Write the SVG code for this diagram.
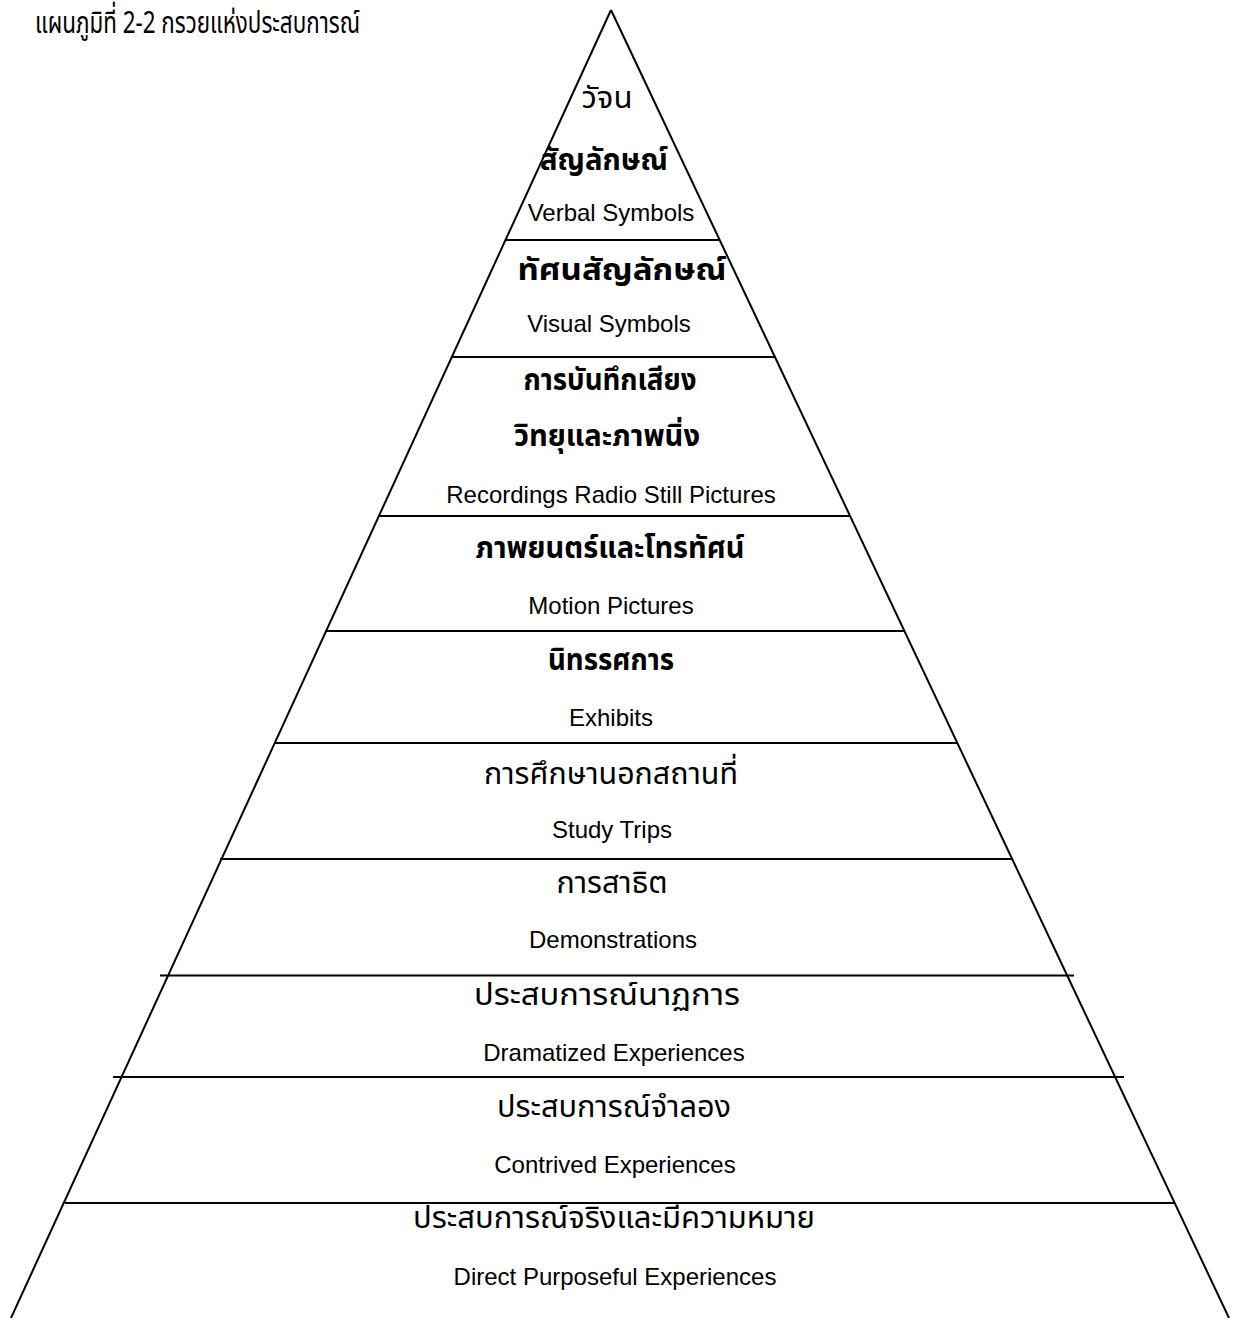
<svg xmlns="http://www.w3.org/2000/svg" width="1237" height="1318" viewBox="0 0 1237 1318">
<style>
.th{font-family:"Noto Sans Thai","Noto Sans Thai Looped","Loma","Garuda","Norasi","Noto Sans","DejaVu Sans",sans-serif;font-size:30px;fill:#000;text-anchor:middle}
.thb{font-weight:bold}
.en{font-family:"Liberation Sans",Arial,sans-serif;font-size:24px;fill:#000;text-anchor:middle}
.edge{stroke:#000;stroke-width:2;fill:none}
.tier{stroke:#000;stroke-width:2.2;fill:none}
</style>
<rect width="1237" height="1318" fill="#fff"/>
<g id="title">
<text class="th" x="35" y="33" style="text-anchor:start;font-size:31px" textLength="325" lengthAdjust="spacingAndGlyphs">แผนภูมิที่ 2-2 กรวยแห่งประสบการณ์</text>
</g>
<g id="connectors">
<line class="edge" x1="611" y1="10" x2="11" y2="1318"/>
<line class="edge" x1="611" y1="10" x2="1229" y2="1318"/>
<line class="tier" x1="505" y1="240" x2="720" y2="240"/>
<line class="tier" x1="451" y1="357" x2="776" y2="357"/>
<line class="tier" x1="379" y1="516" x2="850" y2="516"/>
<line class="tier" x1="325" y1="631" x2="905" y2="631"/>
<line class="tier" x1="274" y1="743" x2="958" y2="743"/>
<line class="tier" x1="220" y1="859" x2="1013" y2="859"/>
<line class="tier" x1="160" y1="975.5" x2="1074" y2="975.5"/>
<line class="tier" x1="113" y1="1077" x2="1124" y2="1077"/>
<line class="tier" x1="65" y1="1203" x2="1175" y2="1203"/>
</g>
<g id="tier-verbal">
<text class="th" x="607" y="108" textLength="51" lengthAdjust="spacingAndGlyphs">วัจน</text>
<text class="th thb" x="604" y="170" textLength="128" lengthAdjust="spacingAndGlyphs">สัญลักษณ์</text>
<text class="en" x="611" y="221">Verbal Symbols</text>
</g>
<g id="tier-visual">
<text class="th thb" x="622" y="280" textLength="209" lengthAdjust="spacingAndGlyphs">ทัศนสัญลักษณ์</text>
<text class="en" x="609" y="332">Visual Symbols</text>
</g>
<g id="tier-recordings">
<text class="th thb" x="610" y="390" textLength="173" lengthAdjust="spacingAndGlyphs">การบันทึกเสียง</text>
<text class="th thb" x="607" y="446" textLength="186" lengthAdjust="spacingAndGlyphs">วิทยุและภาพนิ่ง</text>
<text class="en" x="611" y="503">Recordings Radio Still Pictures</text>
</g>
<g id="tier-motion">
<text class="th thb" x="610" y="558" textLength="269" lengthAdjust="spacingAndGlyphs">ภาพยนตร์และโทรทัศน์</text>
<text class="en" x="611" y="614">Motion Pictures</text>
</g>
<g id="tier-exhibits">
<text class="th thb" x="611" y="670" textLength="126" lengthAdjust="spacingAndGlyphs">นิทรรศการ</text>
<text class="en" x="611" y="726">Exhibits</text>
</g>
<g id="tier-study">
<text class="th" x="611" y="784" textLength="254" lengthAdjust="spacingAndGlyphs">การศึกษานอกสถานที่</text>
<text class="en" x="612" y="838">Study Trips</text>
</g>
<g id="tier-demonstrations">
<text class="th" x="612" y="893" textLength="111" lengthAdjust="spacingAndGlyphs">การสาธิต</text>
<text class="en" x="613" y="948">Demonstrations</text>
</g>
<g id="tier-dramatized">
<text class="th" x="607" y="1005" textLength="266" lengthAdjust="spacingAndGlyphs">ประสบการณ์นาฏการ</text>
<text class="en" x="614" y="1061">Dramatized Experiences</text>
</g>
<g id="tier-contrived">
<text class="th" x="614" y="1117" textLength="234" lengthAdjust="spacingAndGlyphs">ประสบการณ์จำลอง</text>
<text class="en" x="615" y="1173">Contrived Experiences</text>
</g>
<g id="tier-direct">
<text class="th" x="614" y="1228" textLength="402" lengthAdjust="spacingAndGlyphs">ประสบการณ์จริงและมีความหมาย</text>
<text class="en" x="615" y="1285">Direct Purposeful Experiences</text>
</g>
</svg>
